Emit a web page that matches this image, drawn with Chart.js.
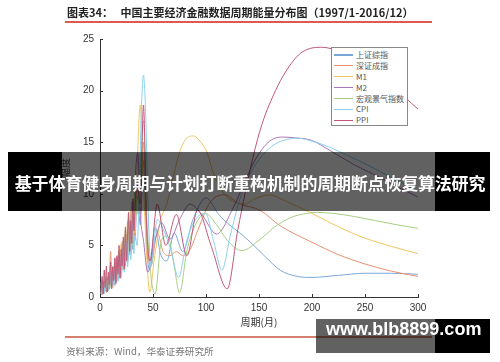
<!DOCTYPE html>
<html>
<head>
<meta charset="utf-8">
<script src="https://cdn.jsdelivr.net/npm/chart.js@4.4.1/dist/chart.umd.min.js"></script>
<style>
  body { margin: 0; background: #fff; }
  #wrap { position: relative; width: 500px; height: 362px; overflow: hidden; background: #fff; font-family: "Noto Sans CJK SC", sans-serif; }
  #c { position: absolute; left: 0; top: 0; }
  .title { position: absolute; left: 67px; top: 5px; font-size: 11px; font-weight: bold; color: #222; white-space: pre; line-height: 15px; }
  .rule { position: absolute; left: 65px; width: 367px; height: 2px; background: #dc5a4e; }
  .source { position: absolute; left: 66px; top: 344px; font-size: 9.6px; color: #777; white-space: pre; line-height: 14px; }
  #legend { position: absolute; left: 331px; top: 47px; width: 77px; height: 79px; border: 1px solid #888; background: #fff; padding-top: 1.5px; box-sizing: border-box; }
  .row { height: 10.9px; display: flex; align-items: center; font-size: 8px; color: #555; line-height: 10px; white-space: nowrap; }
  .row i { display: inline-block; flex: none; width: 19px; height: 1.2px; margin: 0 3px 0 2px; }
  .banner { position: absolute; top: 152px; height: 59px; }
  .btext { position: absolute; left: 0; width: 500px; top: 153px; height: 59px; line-height: 59px; text-align: center; color: #fff; font-size: 17px; font-weight: bold; white-space: nowrap; letter-spacing: -0.2px; }
  .wm { position: absolute; top: 319px; height: 34px; }
  .wmtext { position: absolute; left: 326px; top: 319px; height: 34px; line-height: 34px; color: #fff; font: bold 18px "Liberation Sans", Arial, sans-serif; white-space: nowrap; }
</style>
</head>
<body>
<div id="wrap">
  <canvas id="c" width="500" height="362"></canvas>
  <div class="title">图表34：   中国主要经济金融数据周期能量分布图（1997/1-2016/12）</div>
  <div class="rule" style="top:21px"></div>
  <div id="legend"></div>
  <div class="rule" style="top:336px;height:1.5px;background:#d4806e"></div>
  <div class="source">资料来源：Wind，华泰证券研究所</div>
  <div class="banner" style="left:8px;width:54px;background:#000"></div>
  <div class="banner" style="left:62px;width:373px;background:rgba(0,0,0,0.62)"></div>
  <div class="banner" style="left:435px;width:55px;background:#000"></div>
  <div class="btext">基于体育健身周期与计划打断重构机制的周期断点恢复算法研究</div>
  <div class="wm" style="left:316px;width:119px;background:rgba(0,0,0,0.62)"></div>
  <div class="wm" style="left:435px;width:55px;background:#000"></div>
  <div class="wmtext">www.blb8899.com</div>
</div>
<script>
const seriesNames = ['上证综指', '深证成指', 'M1', 'M2', '宏观景气指数', 'CPI', 'PPI'];
const seriesColors = ['#7ba7d8', '#e8906f', '#f0c462', '#a877b5', '#a9cd82', '#8ad0ef', '#c0577a'];
const xTicks = [0, 50, 100, 150, 200, 250, 300];
const yTicks = [0, 5, 10, 15, 20, 25];

// short periods (months 1..33), shared by all series
const lowPeriods = [1,2,3,4,5,6,7,8,9,10,11,12,13,14,15,16,17,18,19,20,21,22,23,24,25,26,27,28,29,30,31,32,33];

const shLow = [0.2,1.1,0.4,1.5,0.7,1.3,0.5,1.8,0.9,2.1,1.0,2.6,1.4,2.0,3.1,1.6,2.8,1.9,3.6,2.3,4.2,2.6,4.8,3.0,5.6,3.4,6.3,4.1,5.4,7.2,4.6,8.0,5.5];
const shPeriods = [35,38,41,44,47,52,57,63,70,78,88,100,112,122,132,142,155,170,186,200,225,250,275,300];
const shEnergy = [9.8,7.0,13.2,5.0,2.6,6.8,4.2,3.5,6.2,4.4,7.6,9.6,8.0,7.0,6.2,5.3,4.0,2.6,2.0,1.9,2.1,2.3,2.3,2.2];

const szLow = [0.5,0.2,1.3,0.6,1.7,0.4,1.4,0.8,2.2,4.4,1.2,2.0,3.0,1.1,2.7,3.8,1.7,3.3,2.1,4.6,2.8,5.3,3.1,4.0,6.1,3.7,5.0,7.0,4.3,6.0,8.5,5.2,7.4];
const szPeriods = [35,38,41,44,48,54,60,66,72,78,85,92,104,118,130,151,170,200,225,250,275,300];
const szEnergy = [10.5,8.0,15.0,6.0,3.0,6.2,4.3,4.0,4.4,4.0,4.6,6.4,9.2,9.9,9.1,8.4,6.9,5.3,4.1,3.2,2.5,2.0];

const m1Low = [0.8,0.3,0.9,1.4,0.5,1.1,1.9,0.7,1.5,1.0,2.4,0.9,1.8,3.3,1.4,2.6,4.1,2.0,3.0,5.2,2.7,3.9,6.0,3.4,4.8,7.3,4.0,5.9,8.4,5.0,7.1,9.6,6.2];
const m1Periods = [35,38,41,44,47,51,57,63,70,75,81,88,95,101,107,115,125,135,148,160,173,200,225,250,275,300];
const m1Energy = [12.5,18.6,11.0,4.0,0.5,3.5,7.4,9.0,12.0,14.0,15.3,15.6,15.0,14.0,12.0,10.3,9.3,9.0,9.6,9.9,9.4,8.1,6.8,5.7,4.9,4.2];

const m2Low = [0.4,1.0,0.3,0.9,1.6,0.6,1.2,2.0,0.8,1.7,2.5,1.2,2.2,1.5,3.4,2.1,3.0,4.3,2.4,3.7,5.0,3.1,4.4,6.2,3.8,5.5,7.5,4.6,6.6,9.0,5.8,8.0,11.0];
const m2Periods = [35.6,38,41,45,52,58,66,75,85,96,110,125,138,147,160,173,186,199,217,240,260,280,300];
const m2Energy = [14.0,8.0,5.5,2.4,5.5,7.2,5.6,7.5,9.0,8.0,6.1,8.5,11.5,13.4,15.1,15.5,15.4,15.2,14.2,12.8,11.8,10.7,9.7];

const macroLow = [0.3,0.8,1.5,0.5,1.0,2.0,0.7,1.3,2.6,1.0,1.9,3.0,1.3,2.4,3.7,1.8,3.1,4.5,2.3,3.6,5.4,2.9,4.5,6.6,3.6,5.2,7.8,4.3,6.3,9.2,5.1,7.2,10.5];
const macroPeriods = [35,38,41,44,47,52,58,64,70,75,82,90,99.5,110,120,134,150,165,180,195,205,220,240,260,280,300];
const macroEnergy = [8.0,12.0,17.1,8.0,3.0,0.3,5.5,5.9,3.0,0.4,4.5,7.0,8.1,7.0,5.5,4.5,5.5,6.8,7.7,8.1,8.2,8.1,7.8,7.4,7.0,6.65];

const cpiLow = [1.4,0.5,1.0,0.3,1.2,0.9,1.6,0.6,1.3,2.3,0.9,1.6,2.7,1.2,2.0,3.2,1.5,2.5,3.9,1.9,3.2,4.6,2.4,3.8,5.3,2.9,4.4,6.0,3.6,5.4,7.2,4.2,6.0];
const cpiPeriods = [35,37,39,41,43,45,48,54,60,67,74,82,90,99.5,107,115,123,132,141,150,162,174,186,200,217,240,260,280,300];
const cpiEnergy = [5.0,10.0,18.0,21.5,18.0,10.0,3.0,7.5,6.5,4.5,1.9,5.5,7.5,8.1,5.5,2.6,6.0,9.5,11.8,13.3,14.6,15.2,15.4,15.1,14.5,13.4,12.4,11.3,10.3];

const ppiLow = [0.6,2.0,0.3,2.6,0.9,3.0,0.5,2.4,1.2,3.4,0.8,2.9,1.6,3.8,1.3,4.0,2.2,5.0,1.8,4.6,3.0,5.8,2.7,6.8,3.5,6.0,8.2,4.4,7.4,5.2,9.5,6.4,8.6];
const ppiPeriods = [35,38,41,44,47,54,62,72,82,92,105,120,130,144,153,165.6,175,189,208,220,235,250,270,288,300];
const ppiEnergy = [11.0,9.0,18.6,7.0,3.5,9.0,5.0,8.0,4.0,8.4,4.9,0.8,6.5,13.4,16.8,20.0,21.8,23.6,24.2,24.0,23.2,22.2,20.7,19.3,18.2];

const seriesLow = [shLow, szLow, m1Low, m2Low, macroLow, cpiLow, ppiLow];
const seriesPeriods = [shPeriods, szPeriods, m1Periods, m2Periods, macroPeriods, cpiPeriods, ppiPeriods];
const seriesEnergy = [shEnergy, szEnergy, m1Energy, m2Energy, macroEnergy, cpiEnergy, ppiEnergy];

function points(k) {
  const a = lowPeriods.map((p, i) => ({ x: p, y: seriesLow[k][i] }));
  const b = seriesPeriods[k].map((p, i) => ({ x: p, y: seriesEnergy[k][i] }));
  return a.concat(b);
}

// legend (drawn as html, sits inside plot like the matlab one)
const lg = document.getElementById('legend');
seriesNames.forEach((n, i) => {
  const r = document.createElement('div');
  r.className = 'row';
  r.innerHTML = '<i style="background:' + seriesColors[i] + '"></i>' + n;
  lg.appendChild(r);
});

// matlab style ticks pointing into the plot
const inwardTicks = {
  id: 'inwardTicks',
  afterDraw(chart) {
    const { ctx, chartArea: a, scales: { x, y } } = chart;
    ctx.save();
    ctx.strokeStyle = '#333';
    ctx.lineWidth = 1;
    ctx.beginPath();
    xTicks.forEach(v => {
      const px = Math.round(x.getPixelForValue(v)) + 0.5;
      ctx.moveTo(px, a.bottom); ctx.lineTo(px, a.bottom - 3);
    });
    yTicks.forEach(v => {
      const py = Math.round(y.getPixelForValue(v)) + 0.5;
      ctx.moveTo(a.left, py); ctx.lineTo(a.left + 3, py);
    });
    ctx.stroke();
    ctx.restore();
  }
};

Chart.defaults.font.family = '"Liberation Sans", Arial, sans-serif';
Chart.defaults.color = '#333';

new Chart(document.getElementById('c'), {
  type: 'line',
  data: {
    datasets: seriesNames.map((n, i) => ({
      label: n,
      data: points(i),
      borderColor: seriesColors[i],
      borderWidth: 1,
      pointRadius: 0,
      fill: false,
      cubicInterpolationMode: 'monotone',
      order: seriesNames.length - 1 - i
    }))
  },
  options: {
    responsive: false,
    animation: false,
    layout: { padding: { left: 55, right: 82, top: 39, bottom: 30 } },
    plugins: { legend: { display: false }, tooltip: { enabled: false } },
    scales: {
      x: {
        type: 'linear', min: 0, max: 300,
        afterFit: s => { s.height = 35; },
        afterBuildTicks: s => { s.ticks = xTicks.map(v => ({ value: v })); },
        grid: { display: false, drawTicks: false },
        border: { display: true, color: '#333', width: 1 },
        ticks: { padding: 5, font: { size: 10 }, color: '#333' },
        title: { display: true, text: '周期(月)', font: { size: 10, family: '"Noto Sans CJK SC", sans-serif' }, color: '#333' }
      },
      y: {
        type: 'linear', min: 0, max: 25,
        afterFit: s => { s.width = 45; },
        afterBuildTicks: s => { s.ticks = yTicks.map(v => ({ value: v })); },
        grid: { display: false, drawTicks: false },
        border: { display: true, color: '#333', width: 1 },
        ticks: { padding: 6, font: { size: 10 }, color: '#333' },
        title: { display: true, text: '幅度', font: { size: 10, family: '"Noto Sans CJK SC", sans-serif' }, color: '#333' }
      }
    }
  },
  plugins: [inwardTicks]
});
</script>
</body>
</html>
